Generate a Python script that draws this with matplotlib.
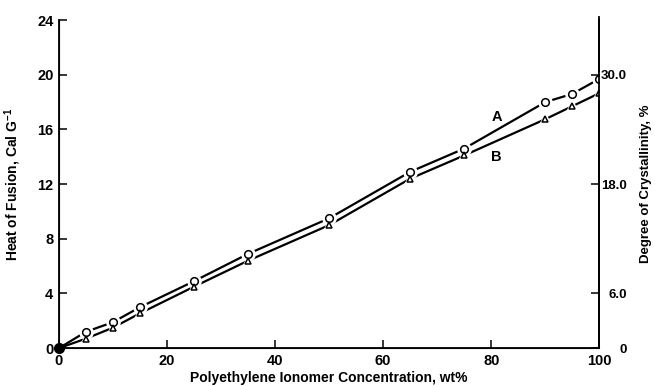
import matplotlib.pyplot as plt

plt.rcParams['font.family'] = ['Liberation Sans', 'DejaVu Sans']
plt.rcParams['font.weight'] = 'bold'
plt.rcParams['mathtext.default'] = 'regular'

# polyethylene ionomer concentration, wt%
conc = [5, 10, 15, 25, 35, 50, 65, 75, 90, 95, 100]
# heat of fusion, cal/g
heat_a = [1.2, 1.9, 3.0, 4.9, 6.9, 9.5, 12.9, 14.6, 18.0, 18.6, 19.7]
heat_b = [0.7, 1.5, 2.55, 4.5, 6.4, 9.0, 12.4, 14.1, 16.75, 17.7, 18.65]

left_ticks = [0, 4, 8, 12, 16, 20, 24]
right_ticks = [0, 6.0, 18.0, 30.0]
right_labels = ['0', '6.0', '18.0', '30.0']
x_ticks = [0, 20, 40, 60, 80, 100]

fig = plt.figure(figsize=(6.55, 3.86), dpi=100)
ax = fig.add_axes([0.090, 0.098, 0.825, 0.850])

for xs, ys, m, ms in [([0] + conc, [0] + heat_a, 'o', 5.5), ([0] + conc, [0] + heat_b, '^', 4.5)]:
    ax.plot(xs, ys, color='black', lw=1.6, zorder=2)
    ax.plot(xs[1:], ys[1:], ls='none', marker=m, ms=ms + 4, mfc='white', mec='white', zorder=3)
    ax.plot(xs[1:], ys[1:], ls='none', marker=m, ms=ms, mfc='white', mec='black', mew=1.1, zorder=4)

ax.plot([0], [0], 'o', color='black', ms=7, clip_on=False, zorder=5)

ax.text(81, 16.9, 'A', fontsize=10.5, fontweight='bold', ha='center', va='center')
ax.text(81, 14.0, 'B', fontsize=10.5, fontweight='bold', ha='center', va='center')

ax.set_xlim(0, 100)
ax.set_ylim(0, 24)
ax.set_xticks(x_ticks)
ax.set_yticks(left_ticks)
ax.spines['top'].set_visible(False)
for s in ax.spines.values():
    s.set_linewidth(1.3)
ax.tick_params(direction='in', length=6, width=1.1, labelsize=10.5, pad=4)
ax.set_xlabel('Polyethylene Ionomer Concentration, wt%', fontsize=10, fontweight='bold', labelpad=2)
ax.set_ylabel('Heat of Fusion, Cal G$^{-1}$', fontsize=10, fontweight='bold', labelpad=10)

ax2 = ax.twinx()
ax2.set_ylim(0, 36)
ax2.set_yticks(right_ticks)
ax2.set_yticklabels(right_labels, ha='right')
ax2.spines['top'].set_visible(False)
ax2.spines['right'].set_bounds(0, 36.3)
ax2.spines['right'].set_linewidth(1.3)
ax2.tick_params(direction='in', length=6, width=1.1, labelsize=9.5, pad=20)
ax2.set_ylabel('Degree of Crystallinity, %', fontsize=9.5, fontweight='bold', labelpad=9)

fig.savefig('out.png', dpi=100)
